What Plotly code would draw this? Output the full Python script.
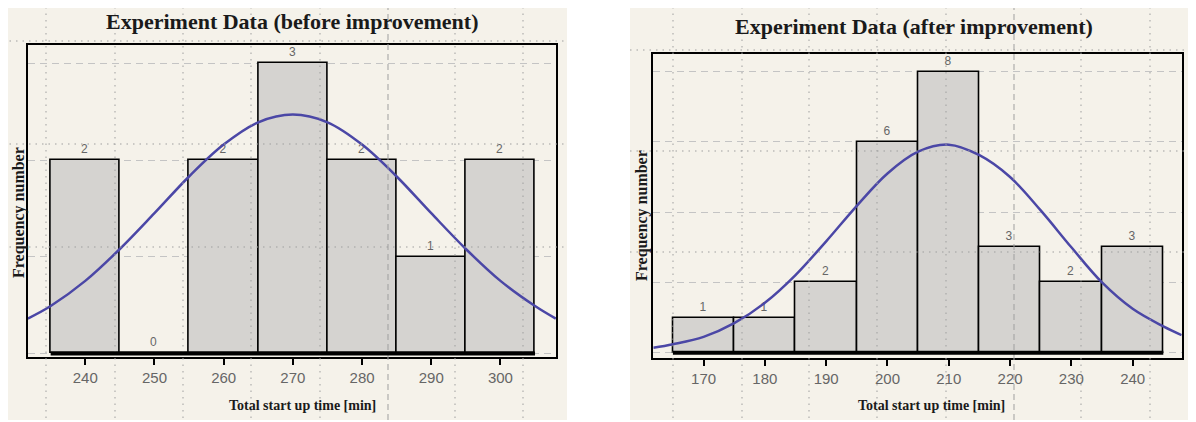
import plotly.graph_objects as go

W, H = 1196, 422
OX, OY = 8, 8  # page body margin offset of the plot div

# ---------------- data ----------------
before_bins = [240, 250, 260, 270, 280, 290, 300]
before_counts = [2, 0, 2, 3, 2, 1, 2]
after_bins = [170, 180, 190, 200, 210, 220, 230, 240]
after_counts = [1, 1, 2, 6, 8, 3, 2, 3]

before_curve_x = [231.7, 235, 240, 245, 250, 255, 260, 265, 270, 275, 280, 285, 290, 295, 300, 305, 308.0]
before_curve_y = [0.36, 0.49, 0.75, 1.08, 1.45, 1.83, 2.16, 2.39, 2.47, 2.39, 2.16, 1.83, 1.45, 1.08, 0.75, 0.49, 0.36]

after_curve_x = [161.8, 165, 170, 175, 180, 185, 190, 195, 200, 205, 210, 215, 220, 225, 230, 235, 240, 245, 248.0]
after_curve_y = [0.14, 0.24, 0.45, 0.84, 1.42, 2.21, 3.17, 4.18, 5.10, 5.72, 5.92, 5.62, 5.00, 4.05, 3.00, 2.00, 1.25, 0.75, 0.50]

before_title = "Experiment Data (before improvement)"
after_title = "Experiment Data (after improvement)"
x_title = "Total start up time [min]"
y_title = "Frequency number"


def px(x):
    return (x - OX) / W


def py(y):
    return 1 - (y - OY) / H


BAR_FILL = "#d5d3d0"
CURVE = "#4b47a6"
CREAM = "#f5f2ea"
SERIF = "Liberation Serif, Times New Roman, serif"
SANS = "Liberation Sans Narrow, Arial Narrow, Liberation Sans, Arial, sans-serif"

fig = go.Figure()

# bars
fig.add_trace(go.Bar(
    x=before_bins, y=before_counts, width=10, xaxis="x", yaxis="y",
    marker=dict(color=BAR_FILL, line=dict(color="black", width=1.6)),
    text=[str(c) for c in before_counts], textposition="outside",
    textfont=dict(color="#666666", size=12, family=SANS), cliponaxis=False,
    showlegend=False,
))
fig.add_trace(go.Bar(
    x=after_bins, y=after_counts, width=10, xaxis="x2", yaxis="y2",
    marker=dict(color=BAR_FILL, line=dict(color="black", width=1.6)),
    text=[str(c) for c in after_counts], textposition="outside",
    textfont=dict(color="#666666", size=12, family=SANS), cliponaxis=False,
    showlegend=False,
))

# fitted curves
fig.add_trace(go.Scatter(
    x=before_curve_x, y=before_curve_y, mode="lines", xaxis="x", yaxis="y",
    line=dict(color=CURVE, width=2.5, shape="spline"), showlegend=False,
))
fig.add_trace(go.Scatter(
    x=after_curve_x, y=after_curve_y, mode="lines", xaxis="x2", yaxis="y2",
    line=dict(color=CURVE, width=2.5, shape="spline"), showlegend=False,
))

axis_common = dict(
    showline=True, mirror=True, linecolor="black", linewidth=2,
    zeroline=False,
)

shapes = []
# cream panels behind each chart
shapes.append(dict(type="rect", xref="paper", yref="paper", layer="below",
                   x0=px(3), x1=px(567), y0=py(420), y1=py(0),
                   fillcolor=CREAM, line=dict(width=0)))
shapes.append(dict(type="rect", xref="paper", yref="paper", layer="below",
                   x0=px(630), x1=px(1210), y0=py(420), y1=py(0),
                   fillcolor=CREAM, line=dict(width=0)))

# page-level dotted overlay grid
GRID_DOT = "#9f9f9f"
DOT = "1.5px,5px"
for xv in [46, 115, 183, 251, 320, 455, 523]:
    shapes.append(dict(type="line", xref="paper", yref="paper", layer="above",
                       x0=px(xv), x1=px(xv), y0=py(418), y1=py(2),
                       line=dict(color=GRID_DOT, width=1, dash=DOT)))
shapes.append(dict(type="line", xref="paper", yref="paper", layer="above",
                   x0=px(388), x1=px(388), y0=py(420), y1=py(0),
                   line=dict(color=GRID_DOT, width=1, dash="6px,4px")))
for yv in [41, 144, 247]:
    shapes.append(dict(type="line", xref="paper", yref="paper", layer="above",
                       x0=px(3), x1=px(567), y0=py(yv), y1=py(yv),
                       line=dict(color=GRID_DOT, width=1, dash=DOT)))
for xv in [673, 742, 809, 877, 946, 1081, 1150]:
    shapes.append(dict(type="line", xref="paper", yref="paper", layer="above",
                       x0=px(xv), x1=px(xv), y0=py(418), y1=py(2),
                       line=dict(color=GRID_DOT, width=1, dash=DOT)))
shapes.append(dict(type="line", xref="paper", yref="paper", layer="above",
                   x0=px(1014), x1=px(1014), y0=py(420), y1=py(0),
                   line=dict(color=GRID_DOT, width=1, dash="6px,4px")))
for yv in [50, 151, 252]:
    shapes.append(dict(type="line", xref="paper", yref="paper", layer="above",
                       x0=px(630), x1=px(1210), y0=py(yv), y1=py(yv),
                       line=dict(color=GRID_DOT, width=1, dash=DOT)))

# thick baselines under the bars
shapes.append(dict(type="line", xref="x", yref="y", layer="above",
                   x0=before_bins[0] - 5, x1=before_bins[-1] + 5, y0=0, y1=0,
                   line=dict(color="black", width=4)))
shapes.append(dict(type="line", xref="x2", yref="y2", layer="above",
                   x0=after_bins[0] - 5, x1=after_bins[-1] + 5, y0=0, y1=0,
                   line=dict(color="black", width=4)))


def ann(text, x, y, size, angle=0):
    return dict(text=f"<b>{text}</b>", xref="paper", yref="paper",
                x=px(x), y=py(y), xanchor="center", yanchor="middle",
                showarrow=False, textangle=angle,
                font=dict(family=SERIF, size=size, color="#1a1a1a"))


annotations = [
    ann(before_title, 292, 21, 22),
    ann(after_title, 914, 27, 22),
    ann(x_title, 302, 405, 14),
    ann(x_title, 931, 405, 14),
    ann(y_title, 19, 213, 16, -90),
    ann(y_title, 642, 216, 16, -90),
]

fig.update_layout(
    width=W, height=H,
    margin=dict(l=0, r=0, t=0, b=0),
    paper_bgcolor="white", plot_bgcolor="white",
    bargap=0,
    xaxis=dict(domain=[px(27.7), px(556)], range=[231.68, 308.03],
               tickvals=before_bins, ticks="outside", ticklen=6, tickwidth=1.5,
               tickcolor="black", showgrid=False,
               tickfont=dict(family=SANS, size=15, color="#666666"),
               anchor="y", **axis_common),
    yaxis=dict(domain=[py(356.7), py(45)], range=[-0.034, 3.19],
               tickvals=[0, 1, 2, 3], showticklabels=False, ticks="",
               showgrid=True, gridcolor="#c4c4c4", griddash="7px,5px", gridwidth=1.2,
               anchor="x", **axis_common),
    xaxis2=dict(domain=[px(653.3), px(1181.7)], range=[161.8, 248.0],
                tickvals=after_bins, ticks="outside", ticklen=6, tickwidth=1.5,
                tickcolor="black", showgrid=False,
                tickfont=dict(family=SANS, size=15, color="#666666"),
                anchor="y2", **axis_common),
    yaxis2=dict(domain=[py(358), py(54)], range=[-0.15, 8.5],
                tickvals=[0, 2, 4, 6, 8], showticklabels=False, ticks="",
                showgrid=True, gridcolor="#c4c4c4", griddash="7px,5px", gridwidth=1.2,
                anchor="x2", **axis_common),
    shapes=shapes,
    annotations=annotations,
)

fig.write_html("out.html")
